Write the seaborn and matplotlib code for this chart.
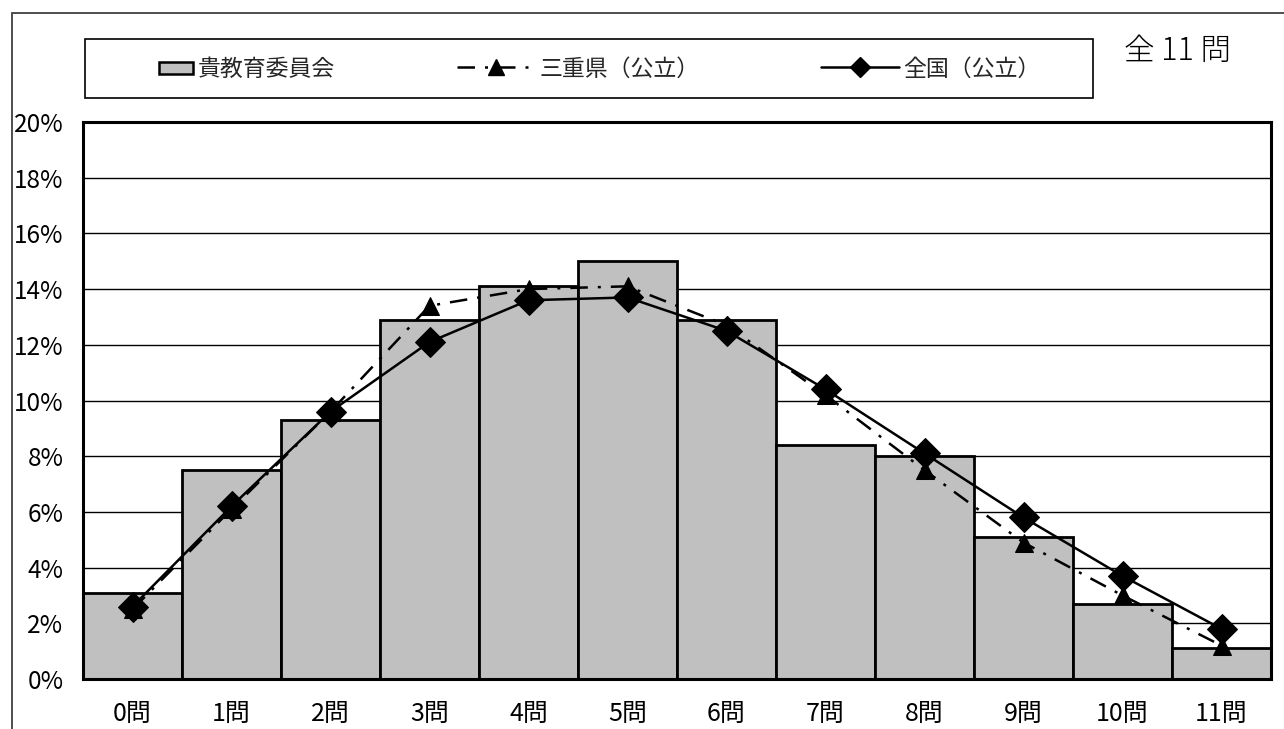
import numpy as np
import pandas as pd
import matplotlib
matplotlib.use("Agg")
import matplotlib.pyplot as plt
from matplotlib.patches import Patch, Rectangle
from matplotlib.lines import Line2D
from matplotlib.legend_handler import HandlerPatch
import seaborn as sns

# --- data -------------------------------------------------------------
categories = ["0問", "1問", "2問", "3問", "4問", "5問",
              "6問", "7問", "8問", "9問", "10問", "11問"]
board_pct = [3.1, 7.5, 9.3, 12.9, 14.1, 15.0, 12.9, 8.4, 8.0, 5.1, 2.7, 1.1]
mie_pct = [2.5, 6.1, 9.6, 13.4, 14.0, 14.1, 12.7, 10.2, 7.5, 4.9, 3.0, 1.2]
national_pct = [2.6, 6.2, 9.6, 12.1, 13.6, 13.7, 12.5, 10.4, 8.1, 5.8, 3.7, 1.8]
y_ticks = [0, 2, 4, 6, 8, 10, 12, 14, 16, 18, 20]
series_names = ["貴教育委員会", "三重県（公立）", "全国（公立）"]
total_label = "全 11 問"

sns.set_theme(style="white")
plt.rcParams["font.family"] = ["Noto Sans CJK JP", "DejaVu Sans"]

W, H = 1284, 729
fig = plt.figure(figsize=(W / 100, H / 100), dpi=100)
fig.patch.set_facecolor("white")

# outer frame (top and left edges)
fig.add_artist(Rectangle((12 / W, -0.05), 1.1, 1 - 13 / H + 0.05,
                         transform=fig.transFigure, fill=False,
                         edgecolor="#404040", linewidth=1.3, clip_on=False))

ax = fig.add_axes([83 / W, 1 - 679 / H, (1271 - 83) / W, (679 - 122) / H])

df = pd.DataFrame({"cat": categories, "board": board_pct,
                   "mie": mie_pct, "nat": national_pct})
df["pos"] = np.arange(len(df))

bar_color = "#C0C0C0"
sns.barplot(data=df, x="cat", y="board", color=bar_color, width=1.0,
            edgecolor="black", linewidth=2.0, saturation=1, ax=ax, zorder=2)

mie_dash = (0, (7, 4, 1.2, 4))
sns.lineplot(data=df, x="pos", y="mie", color="black", linewidth=1.8,
             linestyle=mie_dash, marker="^", markersize=13,
             markeredgecolor="black", markerfacecolor="black", ax=ax, zorder=3)
sns.lineplot(data=df, x="pos", y="nat", color="black", linewidth=1.8,
             marker="D", markersize=15, markeredgecolor="black",
             markerfacecolor="black", ax=ax, zorder=4)

ax.set_xlim(-0.5, len(categories) - 0.5)
ax.set_ylim(0, 20)
ax.set_yticks(y_ticks)
ax.set_yticklabels([f"{t}%" for t in y_ticks])
ax.set_xticks(df["pos"])
ax.set_xticklabels(categories)
ax.set_xlabel("")
ax.set_ylabel("")
ax.yaxis.grid(True, color="black", linewidth=1.0, zorder=0)
ax.set_axisbelow(True)
for s in ax.spines.values():
    s.set_color("black")
    s.set_linewidth(2.2)
ax.tick_params(axis="y", labelsize=17.5, length=0, pad=14, colors="black")
ax.tick_params(axis="x", labelsize=18, length=0, pad=16, colors="black")


# legend with a short bar swatch placed right next to its label
def short_patch(legend, orig_handle, xdescent, ydescent, width, height, fontsize):
    w = width * 0.44
    return Rectangle((width - w - xdescent, -ydescent + height * 0.1),
                     w, height * 0.75)


# legend box
fig.add_artist(Rectangle((85 / W, 1 - 98 / H), 1008 / W, 59 / H,
                         transform=fig.transFigure, fill=True,
                         facecolor="white", edgecolor="black", linewidth=1.2))

handles = [
    Patch(facecolor=bar_color, edgecolor="black", linewidth=1.8),
    Line2D([], [], color="black", linewidth=1.8, linestyle=mie_dash,
           marker="^", markersize=11),
    Line2D([], [], color="black", linewidth=1.8, marker="D", markersize=10),
]
leg = fig.legend(handles, series_names, loc="center",
                 bbox_to_anchor=(578 / W, 1 - 69 / H),
                 ncol=3, frameon=False, fontsize=16.5, handlelength=3.4,
                 handletextpad=0.2, columnspacing=5.3, numpoints=1,
                 handler_map={Patch: HandlerPatch(patch_func=short_patch)})

fig.text(1178 / W, 1 - 51 / H, total_label, ha="center", va="center",
         fontsize=22, color="black", fontweight="light")

fig.savefig("out.png", dpi=100, facecolor="white")
